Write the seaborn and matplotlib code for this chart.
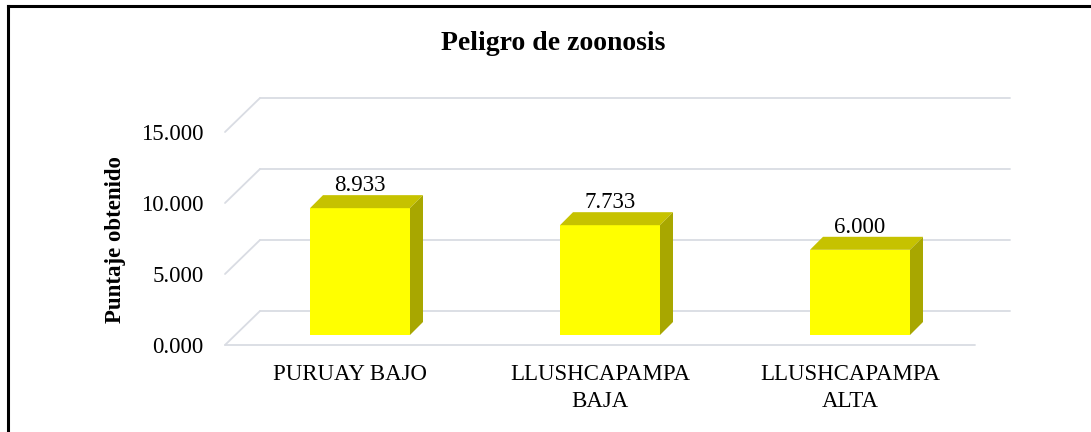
import matplotlib
matplotlib.use("Agg")
import matplotlib.pyplot as plt
import seaborn as sns
from matplotlib.patches import Polygon
from matplotlib.lines import Line2D
from matplotlib.transforms import Affine2D, IdentityTransform

# ---- data ----
categories = ["PURUAY BAJO", "LLUSHCAPAMPA\nBAJA", "LLUSHCAPAMPA\nALTA"]
values = [8.933, 7.733, 6.000]
value_labels = ["8.933", "7.733", "6.000"]
y_ticks = [0, 5, 10, 15]
y_tick_labels = ["0.000", "5.000", "10.000", "15.000"]
title = "Peligro de zoonosis"
y_title = "Puntaje obtenido"

# ---- style ----
sns.set_style("white")
plt.rcParams["font.family"] = ["Liberation Serif", "DejaVu Serif"]
plt.rcParams["text.color"] = "black"

FRONT = "#FFFF00"
TOP = "#C6C200"
SIDE = "#A8A700"
GRID = "#D9DCE3"

W, H, DPI = 1091, 432, 100
fig = plt.figure(figsize=(W / DPI, H / DPI), dpi=DPI)
fig.patch.set_facecolor("white")
ax = fig.add_axes([225 / W, 87 / H, 750 / W, 213 / H])

sns.barplot(x=categories, y=values, color=FRONT, width=0.4, saturation=1,
            linewidth=0, ax=ax, zorder=3)
ax.set_xlim(-0.5, 2.5)
ax.set_ylim(0, 15)
ax.set_xlabel("")
ax.set_ylabel("")
for s in ax.spines.values():
    s.set_visible(False)

# depth offsets (pixels)
BAR_SHIFT = (10, 10)     # bar front plane behind floor front edge
BAR_DEPTH = (13, 13)     # bar depth
WALL = (35, 34)          # back wall offset

shift_tr = ax.transData + Affine2D().translate(*BAR_SHIFT)
wall_tr = ax.transData + Affine2D().translate(*WALL)

# back wall gridlines + left diagonals
for v in y_ticks:
    ax.plot([-0.5, 2.5], [v, v], transform=wall_tr, color=GRID, lw=1.3,
            clip_on=False, zorder=1)
    p0 = ax.transData.transform((-0.5, v))
    ax.add_line(Line2D([p0[0], p0[0] + WALL[0]], [p0[1], p0[1] + WALL[1]],
                       transform=IdentityTransform(), color=GRID, lw=1.3,
                       clip_on=False, zorder=1))
# floor front edge
ax.plot([-0.5, 2.5], [0, 0], color=GRID, lw=1.3, clip_on=False, zorder=1)

# 3D bars
for p, lab in zip(ax.patches, value_labels):
    x0 = p.get_x()
    x1 = x0 + p.get_width()
    v = p.get_height()
    p.set_transform(shift_tr)
    p.set_clip_on(False)
    a = ax.transData.transform((x0, v)) + BAR_SHIFT
    b = ax.transData.transform((x1, v)) + BAR_SHIFT
    c = ax.transData.transform((x1, 0)) + BAR_SHIFT
    dx, dy = BAR_DEPTH
    top = Polygon([a, b, (b[0] + dx, b[1] + dy), (a[0] + dx, a[1] + dy)],
                  closed=True, transform=IdentityTransform(), facecolor=TOP,
                  edgecolor="none", zorder=3, clip_on=False)
    side = Polygon([c, b, (b[0] + dx, b[1] + dy), (c[0] + dx, c[1] + dy)],
                   closed=True, transform=IdentityTransform(), facecolor=SIDE,
                   edgecolor="none", zorder=3, clip_on=False)
    ax.add_patch(top)
    ax.add_patch(side)
    ax.text((x0 + x1) / 2, v, lab,
            transform=ax.transData + Affine2D().translate(BAR_SHIFT[0], BAR_SHIFT[1] + dy + 4),
            ha="center", va="baseline", fontsize=16.5, color="black", zorder=5)

# ticks
ax.set_yticks(y_ticks, y_tick_labels)
ax.tick_params(axis="y", length=0, pad=15.5, labelsize=16.5, colors="black")
ax.tick_params(axis="x", length=0, pad=14, labelsize=16.5, colors="black")
for t in ax.get_xticklabels():
    t.set_linespacing(1.35)

# axis title
fig.text(116 / W, 1 - 240 / H, y_title, rotation=90, ha="center", va="center",
         fontsize=16.5, fontweight="bold", color="black")
# chart title
fig.text(553 / W, 1 - 50 / H, title, ha="center", va="baseline",
         fontsize=20, fontweight="bold", color="black")

# outer border (left and top visible)
fig.add_artist(Line2D([7.5 / W, 7.5 / W], [0, 1 - 5.5 / H], transform=fig.transFigure,
                      color="black", lw=2.2, solid_capstyle="projecting"))
fig.add_artist(Line2D([7.5 / W, 1.0], [1 - 5.5 / H, 1 - 5.5 / H], transform=fig.transFigure,
                      color="black", lw=2.2, solid_capstyle="projecting"))

fig.savefig("out.png", dpi=DPI)
